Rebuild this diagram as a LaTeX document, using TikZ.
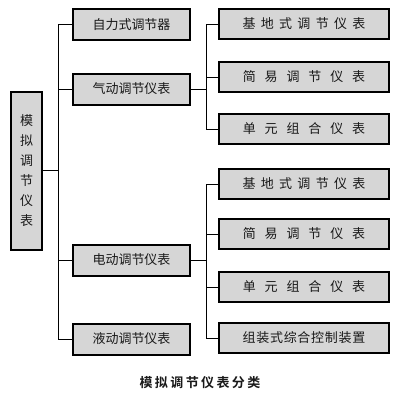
\documentclass[tikz,border=0pt]{standalone}
\usepackage{fontspec}
\setmainfont{Noto Sans CJK SC}
\newfontfamily\capfont{Noto Sans CJK SC Bold}
\newcommand\gapA{\hspace{5.3pt}}
\newcommand\gapB{\hspace{8.9pt}}
\newcommand\gapC{\hspace{0.7pt}}
\newcommand\gapD{\hspace{2.4pt}}
\tikzset{
  box/.style={draw=black, line width=2pt, fill=black!16, text=black!90, inner sep=0pt,
    font=\fontsize{13}{15}\selectfont},
  midbox/.style={box, minimum width=117pt, minimum height=31pt},
  rbox/.style={box, minimum width=170pt, minimum height=30pt},
  conn/.style={draw=black, line width=1pt}
}
\begin{document}
\begin{tikzpicture}[x=1pt,y=-1pt]
\useasboundingbox (0,0) rectangle (400,400);
\fill[white] (0,0) rectangle (400,400);
% left root box
\node[box, minimum width=31pt, minimum height=158pt, align=center,
  font=\fontsize{13}{20}\selectfont] (L) at (26.5,171) {模\\拟\\调\\节\\仪\\表};
% middle boxes
\node[midbox] (m1) at (131.5,24.5) {自力式调节器};
\node[midbox] (m2) at (131.5,89) {气动调节仪表};
\node[midbox] (m3) at (131.5,260) {电动调节仪表};
\node[midbox] (m4) at (131.5,339) {液动调节仪表};
% right boxes, group 1
\node[rbox] (a1) at (304,24) {基\gapA 地\gapA 式\gapA 调\gapA 节\gapA 仪\gapA 表};
\node[rbox] (a2) at (304,77) {简\gapB 易\gapB 调\gapB 节\gapB 仪\gapB 表};
\node[rbox] (a3) at (304,129) {单\gapB 元\gapB 组\gapB 合\gapB 仪\gapB 表};
% right boxes, group 2
\node[rbox] (b1) at (304,184) {基\gapA 地\gapA 式\gapA 调\gapA 节\gapA 仪\gapA 表};
\node[rbox] (b2) at (304,234) {简\gapB 易\gapB 调\gapB 节\gapB 仪\gapB 表};
\node[rbox] (b3) at (304,287) {单\gapB 元\gapB 组\gapB 合\gapB 仪\gapB 表};
\node[rbox] (b4) at (304,338) {组\gapC 装\gapC 式\gapC 综\gapC 合\gapC 控\gapC 制\gapC 装\gapC 置};
% caption
\node[font=\capfont\fontsize{13}{15}\selectfont, text=black!90] (cap) at (200,383)
  {模\gapD 拟\gapD 调\gapD 节\gapD 仪\gapD 表\gapD 分\gapD 类};
% trunk coordinates
\coordinate (t) at (58,0);
\coordinate (r) at (206,0);
% connectors left tree
\draw[conn] (L.east |- 0,170) -- (t |- 0,170);
\draw[conn] (m1.west -| t) -- (m4.west -| t);
\foreach \n in {m1,m2,m3,m4} \draw[conn] (\n.west) -- (\n.west -| t);
% connectors right trees
\draw[conn] (m2.east) -- (m2.east -| r);
\draw[conn] (a1.west -| r) -- (a3.west -| r);
\foreach \n in {a1,a2,a3} \draw[conn] (\n.west) -- (\n.west -| r);
\draw[conn] (m3.east) -- (m3.east -| r);
\draw[conn] (b1.west -| r) -- (b4.west -| r);
\foreach \n in {b1,b2,b3,b4} \draw[conn] (\n.west) -- (\n.west -| r);
\end{tikzpicture}
\end{document}
